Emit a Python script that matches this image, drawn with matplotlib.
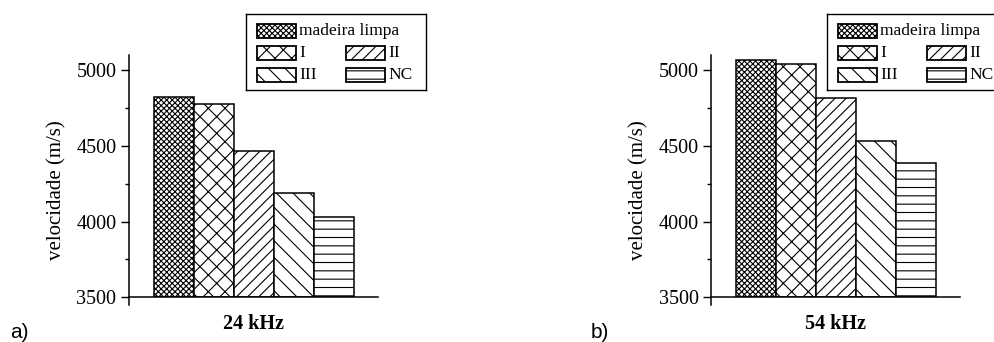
import matplotlib
matplotlib.use("Agg")
import matplotlib.pyplot as plt
from matplotlib.patches import Rectangle

# data
categories = ["madeira limpa", "I", "II", "III", "NC"]
vel_24 = [4826, 4778, 4464, 4189, 4032]
vel_54 = [5070, 5042, 4820, 4530, 4389]
panel_titles = ["24 kHz", "54 kHz"]
panel_tags = ["a)", "b)"]

hatches = ["xxxxxx", "xx", "///", "\\\\", "--"]

plt.rcParams["font.family"] = ["Liberation Serif", "DejaVu Serif"]
plt.rcParams["hatch.linewidth"] = 0.8

fig = plt.figure(figsize=(9.95, 3.42), dpi=100)


def draw_panel(x0, values, title):
    ax = fig.add_axes([x0, 0.1307, 0.2503, 0.708])
    for i, v in enumerate(values):
        ax.bar(i, v - 3500, bottom=3500, width=1.0, color="white",
               edgecolor="black", linewidth=1.1, hatch=hatches[i])
    ax.set_xlim(-1.125, 5.1)
    ax.set_ylim(3500, 5100)
    ax.set_yticks([3500, 4000, 4500, 5000])
    ax.set_yticks([3750, 4250, 4750], minor=True)
    ax.set_xticks([])
    ax.spines["top"].set_visible(False)
    ax.spines["right"].set_visible(False)
    ax.spines["left"].set_linewidth(1.1)
    ax.spines["bottom"].set_linewidth(1.1)
    ax.spines["left"].set_bounds(3450, 5100)
    ax.tick_params(axis="y", which="major", direction="out", length=6,
                   width=1.0, labelsize=14.5, pad=3)
    ax.tick_params(axis="y", which="minor", direction="out", length=3,
                   width=1.0)
    ax.set_ylabel("velocidade (m/s)", fontsize=15)
    ax.yaxis.set_label_coords(-0.25, 0.443)
    ax.set_xlabel(title, fontsize=14.5, fontweight="bold", labelpad=12)
    return ax


def draw_legend(x0):
    lg = fig.add_axes([x0, 0.737, 0.181, 0.222])
    lg.set_xlim(0, 1)
    lg.set_ylim(0, 1)
    lg.set_xticks([])
    lg.set_yticks([])
    for s in lg.spines.values():
        s.set_linewidth(1.0)
    # (col x, row y) for each entry
    spots = [(0.061, 0.776), (0.061, 0.487), (0.557, 0.487),
             (0.061, 0.197), (0.557, 0.197)]
    for (px, py), lab, h in zip(spots, categories, hatches):
        lg.add_patch(Rectangle((px, py - 0.09), 0.217, 0.18,
                               facecolor="white", edgecolor="black",
                               linewidth=1.3, hatch=h))
        lg.text(px + 0.235, py, lab, fontsize=12.5, va="center", ha="left")
    return lg


draw_panel(0.1296, vel_24, panel_titles[0])
draw_panel(0.7146, vel_54, panel_titles[1])
draw_legend(0.247)
draw_legend(0.831)

fig.text(0.01, 0.012, panel_tags[0], fontsize=15, family="Liberation Sans")
fig.text(0.594, 0.012, panel_tags[1], fontsize=15, family="Liberation Sans")

fig.savefig("out.png", dpi=100)
